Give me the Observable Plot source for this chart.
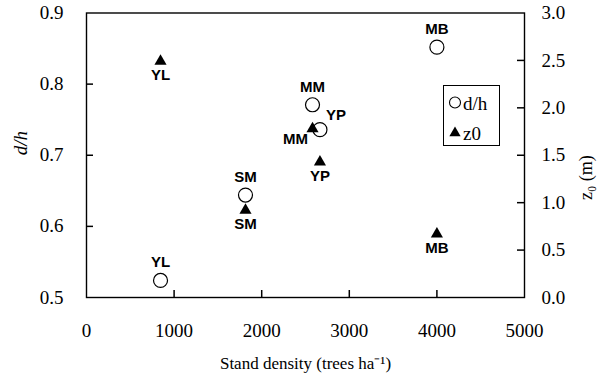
<!DOCTYPE html>
<html><head><meta charset="utf-8">
<script src="https://cdn.jsdelivr.net/npm/d3@7"></script>
<script src="https://cdn.jsdelivr.net/npm/@observablehq/plot@0.6"></script>
<style>
body{margin:0;background:#fff;}
#wrap{position:relative;width:605px;height:380px;}
#legend{position:absolute;left:443px;top:85px;width:55px;height:59px;border:1px solid #000;background:#fff;}
</style></head><body>
<div id="wrap"></div>
<script>
const stands = ["YL", "SM", "MM", "YP", "MB"];
const density = [845, 1815, 2580, 2665, 4000];
const dh = [0.524, 0.644, 0.771, 0.736, 0.852];
const z0 = [2.49, 0.92, 1.78, 1.43, 0.67];
const xTickLabels = [0, 1000, 2000, 3000, 4000, 5000];
const xInnerTicks = [1000, 2000, 3000, 4000];
const yLeftTicks = [0.5, 0.6, 0.7, 0.8, 0.9];
const yLeftInner = [0.6, 0.7, 0.8];
const yRightTicks = [0, 0.5, 1.0, 1.5, 2.0, 2.5, 3.0];
const yRightInner = [0.5, 1.0, 1.5, 2.0, 2.5];

const dhMin = 0.5, dhMax = 0.9, zMax = 3, xMin = 0, xMax = 5000;
const zToY = z => dhMin + z / zMax * (dhMax - dhMin);
const yToZ = y => Math.round((y - dhMin) / (dhMax - dhMin) * zMax * 10) / 10;
const rows = stands.map((s, i) => ({stand: s, density: density[i], dh: dh[i], z0y: zToY(z0[i])}));

const serif = "Liberation Serif";
const lab = {fontFamily: "Liberation Sans", fontWeight: "bold", fontSize: 15, fill: "#000"};
const f1 = d3.format(".1f");
const tickStyle = {stroke: "#000", strokeWidth: 1.5};

const plot = Plot.plot({
  width: 605, height: 380,
  marginLeft: 86, marginRight: 81, marginTop: 12.5, marginBottom: 83,
  x: {domain: [xMin, xMax]},
  y: {domain: [dhMin, dhMax]},
  marks: [
    Plot.ruleX(xInnerTicks, {x: d => d, y1: dhMin, y2: dhMin, insetTop: -7, ...tickStyle}),
    Plot.ruleY(yLeftInner, {y: d => d, x1: xMin, x2: xMin, insetRight: -7, ...tickStyle}),
    Plot.ruleY(yRightInner.map(zToY), {y: d => d, x1: xMax, x2: xMax, insetLeft: -7, ...tickStyle}),
    Plot.frame({stroke: "#000", strokeWidth: 1.4}),
    Plot.axisX({ticks: xTickLabels, tickSize: 0, tickPadding: 26, tickFormat: d => String(d), label: null, fontSize: 19, fontFamily: serif, fill: "#000"}),
    Plot.axisY({anchor: "left", ticks: yLeftTicks, tickSize: 0, tickPadding: 23, tickFormat: f1, label: null, fontSize: 19, fontFamily: serif, fill: "#000"}),
    Plot.axisY({anchor: "right", ticks: yRightTicks.map(zToY), tickSize: 0, tickPadding: 17, tickFormat: v => f1(yToZ(v)), label: null, fontSize: 19, fontFamily: serif, fill: "#000"}),
    Plot.dot(rows, {x: "density", y: "dh", r: 7, stroke: "#000", fill: "#fff", strokeWidth: 1.2}),
    Plot.dot(rows, {x: "density", y: "z0y", symbol: "triangle", r: 4.5, fill: "#000", stroke: "none"}),
    Plot.text(rows.filter(d => d.stand !== "YP"), {x: "density", y: "dh", text: "stand", dy: -18, ...lab}),
    Plot.text(rows.filter(d => d.stand === "YP"), {x: "density", y: "dh", text: "stand", dx: 16, dy: -14, ...lab}),
    Plot.text(rows.filter(d => d.stand !== "MM"), {x: "density", y: "z0y", text: "stand", dy: 14, ...lab}),
    Plot.text(rows.filter(d => d.stand === "MM"), {x: "density", y: "z0y", text: "stand", dx: -17, dy: 10, ...lab}),
    Plot.text(["Stand density (trees ha\u207B\u00B9)"], {text: d => d, frameAnchor: "bottom", dy: 71, fontSize: 17, fontFamily: serif, fill: "#000"}),
    Plot.text(["d/h"], {text: d => d, frameAnchor: "left", dx: -66, rotate: -90, fontStyle: "italic", fontSize: 19, fontFamily: serif, fill: "#000"}),
    Plot.text(["z\u2080 (m)"], {text: d => d, frameAnchor: "right", dx: 62, rotate: -90, fontSize: 18, fontFamily: serif, fill: "#000"})
  ]
});

const wrap = document.getElementById("wrap");
wrap.appendChild(plot);
const legend = document.createElement("div");
legend.id = "legend";
legend.innerHTML = `<svg width="55" height="59" style="font-family:'Liberation Serif';font-size:19px">
<circle cx="11" cy="16.5" r="5.5" fill="#fff" stroke="#000" stroke-width="1.1"></circle>
<text x="19" y="24">d/h</text>
<path d="${d3.symbol(d3.symbolTriangle, 55)()}" transform="translate(11,47)" fill="#000"></path>
<text x="19" y="54">z0</text>
</svg>`;
wrap.appendChild(legend);
</script>
</body></html>
